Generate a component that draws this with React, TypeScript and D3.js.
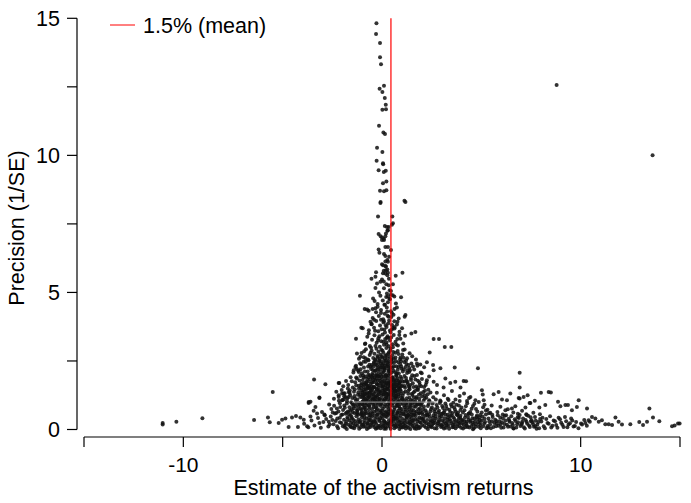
import React from "react";
import * as d3 from "d3";

type P = [number, number];

// x-axis ticks / labels
const xTicks = [-15, -10, -5, 0, 5, 10, 15];
const xTickLabels = ["", "-10", "", "0", "", "10", ""];
// y-axis ticks / labels
const yTicks = [0, 2.5, 5, 7.5, 10, 12.5, 15];
const yTickLabels = ["0", "", "5", "", "10", "", "15"];

const meanEstimate = 0.45;
const legendLabel = "1.5% (mean)";
const refLineY = 1.0;
const refLineX: [number, number] = [-1.5, 2.8];

// high-precision stem of the funnel
const stemPoints: P[] = [
  [-0.28, 14.82], [-0.3, 14.43], [-0.1, 14.1], [-0.1, 13.58], [-0.05, 13.32],
  [0.1, 12.54], [-0.12, 12.43], [0.02, 12.31], [0.14, 12.09], [0.19, 11.85],
  [0.02, 11.66], [0.2, 11.68], [-0.15, 11.08], [0.07, 10.83], [0.15, 10.78],
  [-0.25, 10.28], [0.02, 10.12], [-0.27, 9.8], [0.05, 9.71], [0.06, 9.68],
  [-0.17, 9.46], [0.09, 9.39], [0.19, 9.44], [0.05, 8.98], [0.22, 9.05],
  [-0.1, 8.71], [0.1, 8.69], [0.22, 8.73], [-0.07, 8.3], [-0.08, 8.26],
  [1.13, 8.34], [1.18, 8.3], [-0.2, 7.77], [0.52, 7.77], [0.55, 7.52],
  [0.5, 7.47], [0.14, 7.42], [0.25, 7.39], [0.34, 7.39], [0.3, 7.27],
  [-0.17, 7.13], [-0.07, 7.05], [0.0, 7.0], [0.09, 6.96], [0.17, 7.05],
  [0.2, 7.15], [0.27, 7.25], [0.0, 6.91], [0.1, 6.91], [0.17, 6.66],
  [0.3, 6.66], [-0.17, 6.57], [-0.13, 6.45], [0.1, 6.4], [0.17, 6.33],
  [0.17, 6.13], [0.27, 6.18], [0.0, 6.03], [0.05, 5.99], [0.17, 5.96],
  [0.3, 6.12], [-0.3, 5.74], [-0.33, 5.57], [0.2, 5.81], [0.27, 5.84],
  [0.3, 5.72], [0.17, 5.69], [0.09, 5.79], [0.27, 5.63], [1.03, 5.72],
  [0.69, 5.61], [-0.53, 5.5], [0.0, 5.47], [0.09, 5.4], [-0.08, 5.39],
  [-0.25, 5.33], [-0.33, 5.16], [0.1, 5.15], [0.34, 5.26], [0.39, 5.08],
  [0.25, 4.96], [0.3, 4.86], [0.37, 4.77], [-1.11, 4.88], [0.96, 4.82],
  [0.54, 4.9], [-0.45, 4.78], [-0.37, 4.69], [0.75, 4.45], [-0.87, 4.4],
  [-0.75, 4.38], [-0.67, 4.33], [-0.47, 4.4], [-0.33, 4.42], [-0.22, 4.48],
  [1.18, 4.18], [1.14, 4.11], [0.84, 4.05], [-0.58, 3.93], [-0.53, 3.84],
  [-1.04, 3.71], [1.01, 3.69], [0.64, 3.74], [0.75, 3.83],
  [0.15, 4.55], [0.28, 4.15], [0.4, 4.75], [0.55, 5.3], [0.62, 4.85], [0.2, 5.95],
  [0.36, 6.3], [-0.05, 4.25], [0.1, 3.95], [0.25, 3.35], [0.5, 3.65], [-0.4, 4.0],
  [0.05, 5.7], [0.45, 6.55],
];

// isolated outliers
const outlierPoints: P[] = [
  [8.79, 12.57], [13.62, 10.0],
];

// right tail of the funnel
const rightTail: P[] = [
  [1.48, 3.5], [1.68, 3.56], [2.6, 3.3], [2.87, 3.3], [3.16, 3.01],
  [3.49, 3.01], [2.4, 2.81], [2.26, 2.45], [2.57, 2.35], [1.93, 2.37],
  [1.76, 2.41], [3.66, 2.26], [4.83, 2.23], [2.94, 2.23], [2.6, 2.16],
  [6.93, 2.07], [2.26, 1.8], [2.6, 1.74], [3.19, 1.86], [3.44, 1.7],
  [3.69, 1.74], [4.11, 1.77], [4.23, 1.76], [6.93, 1.53], [3.95, 1.53],
  [3.1, 1.53], [2.77, 1.62], [5.03, 1.43], [5.87, 1.37], [5.62, 1.29],
  [6.46, 1.31], [5.07, 1.28], [7.33, 1.25], [7.13, 1.19], [6.88, 1.15],
  [6.29, 1.07], [6.04, 1.09], [7.43, 0.97], [6.71, 0.85], [6.54, 0.77],
  [5.96, 0.83], [6.21, 0.7], [5.12, 1.07], [4.7, 1.07], [4.28, 1.04],
  [4.45, 1.19], [8.0, 1.34], [8.39, 1.37], [8.5, 1.35], [6.93, 1.13],
  [7.69, 1.05], [7.47, 0.97], [7.22, 0.8], [8.22, 0.89], [7.92, 0.8],
  [8.86, 1.01], [9.23, 0.89], [9.36, 0.89], [9.9, 1.07], [9.81, 0.82],
  [10.32, 0.77], [9.56, 0.7], [8.98, 0.85], [13.46, 0.77], [13.64, 0.44],
  [13.96, 0.3], [12.95, 0.27], [13.14, 0.16], [13.34, 0.28], [12.5, 0.19],
  [12.08, 0.18], [11.75, 0.44], [11.91, 0.28], [14.6, 0.12], [14.73, 0.15],
  [14.9, 0.22], [14.98, 0.22], [11.41, 0.19], [11.58, 0.16], [11.24, 0.19],
  [10.91, 0.28], [11.07, 0.34], [10.74, 0.4], [10.57, 0.46], [10.4, 0.34],
  [10.24, 0.24], [10.07, 0.18],
];

// left tail of the funnel
const leftTail: P[] = [
  [-11.04, 0.18], [-11.04, 0.24], [-10.35, 0.28], [-9.04, 0.41], [-5.5, 1.37],
  [-6.44, 0.35], [-5.74, 0.44], [-5.65, 0.26], [-5.2, 0.24], [-5.03, 0.36],
  [-4.86, 0.4], [-4.7, 0.09], [-4.23, 0.09], [-3.77, 0.12], [-4.53, 0.44],
  [-4.33, 0.49], [-4.11, 0.44], [-3.94, 0.36], [-3.69, 0.97], [-3.6, 1.01],
  [-3.15, 1.17], [-2.85, 1.65], [-2.18, 1.7], [-3.44, 0.68], [-3.27, 0.58],
  [-3.02, 0.64], [-2.18, 1.25], [-2.01, 1.07], [-1.93, 1.31], [-1.68, 1.19],
  [-3.42, 1.82], [-2.15, 1.7], [-3.15, 1.15], [-3.69, 1.0], [-1.31, 3.31],
  [-0.97, 3.69], [-0.84, 3.14], [-0.67, 3.5], [-1.26, 2.77], [-1.09, 2.65],
  [-0.92, 2.47], [-1.34, 2.28], [-1.42, 2.16], [-1.17, 2.1], [-2.01, 1.31],
  [-2.18, 1.19], [-1.84, 1.19], [-1.68, 1.37],
];

// base of the funnel, precision below 0.5
const baseLow: P[] = [
  [-3.92, 0.21], [-3.71, 0.08], [-3.55, 0.33], [-3.4, 0.15], [-3.22, 0.42], [-3.08, 0.06],
  [-2.95, 0.27], [-2.81, 0.38], [-2.7, 0.11], [-2.58, 0.47], [-2.44, 0.19], [-2.33, 0.31],
  [-2.21, 0.05], [-2.12, 0.43], [-2.04, 0.24],
  [-1.97, 0.12], [-1.91, 0.36], [-1.86, 0.07], [-1.8, 0.28], [-1.74, 0.45], [-1.69, 0.17],
  [-1.63, 0.33], [-1.57, 0.09], [-1.51, 0.4], [-1.46, 0.22], [-1.4, 0.05], [-1.35, 0.3],
  [-1.29, 0.48], [-1.23, 0.14], [-1.18, 0.37], [-1.12, 0.26], [-1.07, 0.08], [-1.01, 0.44],
  [-0.96, 0.19], [-0.9, 0.32], [-0.85, 0.11], [-0.79, 0.41], [-0.73, 0.23], [-0.68, 0.06],
  [-0.62, 0.35], [-0.57, 0.16], [-0.51, 0.47], [-0.46, 0.27], [-0.4, 0.09], [-0.35, 0.38],
  [-0.29, 0.2], [-0.24, 0.44], [-0.18, 0.13], [-0.13, 0.31], [-0.07, 0.05], [-0.02, 0.25],
  [-1.55, 0.25], [-1.02, 0.17], [-0.66, 0.43], [-0.31, 0.03],
  [0.03, 0.39], [0.08, 0.15], [0.13, 0.28], [0.18, 0.07], [0.24, 0.46], [0.29, 0.21],
  [0.35, 0.34], [0.4, 0.1], [0.46, 0.42], [0.51, 0.18], [0.57, 0.29], [0.62, 0.05],
  [0.68, 0.37], [0.73, 0.24], [0.79, 0.12], [0.84, 0.45], [0.9, 0.31], [0.95, 0.08],
  [1.01, 0.4], [1.06, 0.2], [1.12, 0.33], [1.17, 0.14], [1.23, 0.47], [1.28, 0.26],
  [1.34, 0.06], [1.39, 0.36], [1.45, 0.17], [1.5, 0.43], [1.56, 0.23], [1.61, 0.09],
  [1.67, 0.38], [1.72, 0.19], [1.78, 0.3], [1.83, 0.11], [1.89, 0.44], [1.94, 0.25],
  [0.21, 0.25], [0.55, 0.47], [0.87, 0.19], [1.2, 0.04], [1.52, 0.32], [1.86, 0.05],
  [0.11, 0.03], [0.66, 0.16], [1.42, 0.27],
  [2.02, 0.16], [2.08, 0.41], [2.15, 0.27], [2.21, 0.07], [2.27, 0.35], [2.34, 0.19],
  [2.4, 0.46], [2.46, 0.12], [2.53, 0.3], [2.59, 0.22], [2.65, 0.05], [2.72, 0.39],
  [2.78, 0.15], [2.84, 0.28], [2.91, 0.44], [2.97, 0.09], [3.03, 0.33], [3.1, 0.2],
  [3.16, 0.41], [3.22, 0.06], [3.29, 0.26], [3.35, 0.14], [3.41, 0.37], [3.48, 0.23],
  [3.54, 0.08], [3.6, 0.45], [3.67, 0.18], [3.73, 0.31], [3.79, 0.11], [3.86, 0.4],
  [3.92, 0.25], [3.98, 0.06], [4.05, 0.34], [4.11, 0.17], [4.17, 0.43], [4.24, 0.22],
  [4.3, 0.09], [4.36, 0.36], [4.43, 0.27], [4.49, 0.13], [4.55, 0.41], [4.62, 0.05],
  [4.68, 0.29], [4.74, 0.19], [4.81, 0.38], [4.87, 0.1], [4.93, 0.24], [2.45, 0.33],
  [3.12, 0.04], [3.83, 0.21],
  [5.02, 0.33], [5.1, 0.12], [5.19, 0.27], [5.27, 0.05], [5.36, 0.4], [5.44, 0.18],
  [5.53, 0.3], [5.61, 0.09], [5.7, 0.36], [5.78, 0.22], [5.87, 0.14], [5.95, 0.44],
  [6.04, 0.26], [6.12, 0.07], [6.21, 0.33], [6.29, 0.17], [6.38, 0.39], [6.46, 0.11],
  [6.55, 0.24], [6.63, 0.04], [6.72, 0.31], [6.8, 0.19], [6.89, 0.42], [6.97, 0.13],
  [7.06, 0.28], [7.14, 0.08], [7.23, 0.35], [7.31, 0.21], [7.4, 0.15], [7.48, 0.45],
  [7.57, 0.26], [7.65, 0.1], [7.74, 0.32], [7.82, 0.18], [7.91, 0.05],
  [8.02, 0.29], [8.14, 0.12], [8.27, 0.38], [8.39, 0.21], [8.52, 0.07], [8.64, 0.33],
  [8.77, 0.16], [8.89, 0.43], [9.02, 0.25], [9.14, 0.09], [9.27, 0.3], [9.39, 0.18],
  [9.52, 0.4], [9.64, 0.11], [9.77, 0.27], [9.89, 0.05], [10.02, 0.22], [10.18, 0.35],
  [10.31, 0.14], [10.46, 0.28],
];

// more base points, precision below 0.6
const baseLowExtra: P[] = [
  [-2.88, 0.52], [-2.63, 0.18], [-2.37, 0.58], [-2.26, 0.12], [-1.99, 0.55], [-1.83, 0.21],
  [-1.77, 0.02], [-1.66, 0.56], [-1.6, 0.13], [-1.49, 0.07], [-1.43, 0.35], [-1.32, 0.19],
  [-1.26, 0.57], [-1.15, 0.03], [-1.09, 0.31], [-0.98, 0.52], [-0.93, 0.1], [-0.87, 0.24],
  [-0.82, 0.58], [-0.76, 0.02], [-0.7, 0.31], [-0.65, 0.54], [-0.59, 0.09], [-0.54, 0.24],
  [-0.48, 0.58], [-0.43, 0.16], [-0.37, 0.5], [-0.32, 0.27], [-0.26, 0.06], [-0.21, 0.56],
  [-0.15, 0.36], [-0.1, 0.15], [-0.04, 0.49], [0.01, 0.11], [0.06, 0.55], [0.1, 0.32],
  [0.16, 0.48], [0.2, 0.03], [0.27, 0.13], [0.32, 0.53], [0.38, 0.23], [0.43, 0.03],
  [0.49, 0.33], [0.54, 0.56], [0.6, 0.14], [0.65, 0.44], [0.71, 0.09], [0.76, 0.57],
  [0.82, 0.31], [0.88, 0.02], [0.93, 0.51], [0.99, 0.26], [1.04, 0.07], [1.1, 0.55],
  [1.15, 0.24], [1.21, 0.38], [1.26, 0.11], [1.32, 0.52], [1.37, 0.22], [1.43, 0.02],
  [1.48, 0.56], [1.54, 0.13], [1.59, 0.34], [1.65, 0.04], [1.7, 0.5], [1.76, 0.12],
  [1.81, 0.37], [1.87, 0.58], [1.92, 0.08], [1.98, 0.41], [2.05, 0.54], [2.12, 0.13],
  [2.18, 0.5], [2.24, 0.23], [2.31, 0.02], [2.37, 0.56], [2.43, 0.26], [2.5, 0.08],
  [2.56, 0.43], [2.62, 0.33], [2.69, 0.58], [2.75, 0.04], [2.81, 0.23], [2.88, 0.53],
  [2.94, 0.19], [3.0, 0.47], [3.07, 0.1], [3.13, 0.29], [3.19, 0.55], [3.26, 0.15],
  [3.32, 0.45], [3.38, 0.03], [3.45, 0.31], [3.51, 0.51], [3.57, 0.16], [3.64, 0.38],
  [3.7, 0.05], [3.76, 0.56], [3.83, 0.29], [3.89, 0.13], [3.95, 0.5], [4.02, 0.22],
  [4.08, 0.04], [4.14, 0.3], [4.21, 0.53], [4.27, 0.15], [4.33, 0.46], [4.4, 0.07],
  [4.46, 0.32], [4.52, 0.55], [4.59, 0.18], [4.65, 0.4], [4.71, 0.1], [4.78, 0.51],
  [4.84, 0.26], [4.9, 0.45], [4.97, 0.05], [5.06, 0.47], [5.14, 0.22], [5.23, 0.55],
  [5.31, 0.13], [5.4, 0.29], [5.48, 0.05], [5.57, 0.46], [5.65, 0.24], [5.74, 0.12],
  [5.83, 0.52], [5.91, 0.3], [6.0, 0.06], [6.08, 0.41], [6.17, 0.2], [6.25, 0.52],
  [6.34, 0.1], [6.42, 0.28], [6.51, 0.48], [6.59, 0.16], [6.68, 0.37], [6.76, 0.07],
  [6.85, 0.26], [6.93, 0.53], [7.02, 0.18], [7.1, 0.4], [7.19, 0.04], [7.27, 0.28],
  [7.36, 0.5], [7.44, 0.09], [7.53, 0.34], [7.61, 0.19], [7.7, 0.46], [7.78, 0.03],
  [7.87, 0.27], [8.08, 0.43], [8.2, 0.05], [8.33, 0.24], [8.46, 0.48], [8.58, 0.14],
  [8.71, 0.3], [8.83, 0.06], [8.96, 0.37], [9.08, 0.17], [9.21, 0.46], [9.33, 0.08],
  [9.46, 0.23], [9.58, 0.33], [9.71, 0.13],
  [2.09, 0.31], [2.28, 0.5], [2.52, 0.16], [2.7, 0.47], [2.89, 0.34], [3.05, 0.57],
  [3.23, 0.21], [3.43, 0.49], [3.62, 0.27], [3.8, 0.53], [3.99, 0.36], [4.18, 0.08],
  [4.38, 0.58], [4.57, 0.25], [4.76, 0.46], [4.95, 0.16], [5.16, 0.39], [5.35, 0.07],
  [5.55, 0.54], [5.76, 0.31], [5.97, 0.19], [6.18, 0.5], [6.4, 0.33], [6.61, 0.05],
  [6.83, 0.45], [7.04, 0.23], [7.26, 0.56], [7.49, 0.3], [7.72, 0.12], [7.96, 0.38],
  [-2.5, 0.35], [-2.12, 0.26], [-1.72, 0.39], [-1.38, 0.12], [-1.05, 0.55], [-0.71, 0.18],
  [-0.39, 0.3], [-0.08, 0.42], [0.25, 0.56], [0.58, 0.4], [0.92, 0.16], [1.25, 0.45],
  [1.58, 0.52], [1.9, 0.27],
  [0.14, 0.2], [0.45, 0.28], [0.74, 0.4], [1.08, 0.1], [1.4, 0.47], [1.73, 0.03],
  [2.04, 0.37], [2.36, 0.11], [2.66, 0.25], [2.98, 0.15], [3.3, 0.36], [3.6, 0.09],
  [3.93, 0.44], [4.25, 0.28], [4.58, 0.01], [4.92, 0.35], [-0.2, 0.06], [-0.55, 0.35],
  [-0.88, 0.44], [-1.2, 0.27], [-1.53, 0.46], [-1.88, 0.15], [-2.25, 0.4], [-2.68, 0.28],
  [-3.15, 0.24], [-3.6, 0.47],
];

// precision 0.5 to 1
const baseHigh: P[] = [
  [-3.35, 0.82], [-2.9, 0.55], [-2.66, 0.91], [-2.48, 0.62], [-2.27, 0.77], [-2.12, 0.96], [-2.05, 0.53],
  [-1.96, 0.71], [-1.9, 0.88], [-1.83, 0.57], [-1.77, 0.95], [-1.71, 0.66], [-1.64, 0.81],
  [-1.58, 0.52], [-1.52, 0.74], [-1.45, 0.92], [-1.39, 0.6], [-1.33, 0.85], [-1.26, 0.69],
  [-1.2, 0.54], [-1.14, 0.97], [-1.07, 0.77], [-1.01, 0.63], [-0.95, 0.89], [-0.88, 0.56],
  [-0.82, 0.72], [-0.76, 0.94], [-0.69, 0.61], [-0.63, 0.83], [-0.57, 0.51], [-0.5, 0.75],
  [-0.44, 0.9], [-0.38, 0.65], [-0.31, 0.8], [-0.25, 0.55], [-0.19, 0.98], [-0.12, 0.7],
  [-0.06, 0.86], [-0.01, 0.59], [-1.48, 0.63], [-0.91, 0.78], [-0.35, 0.93],
  [0.04, 0.76], [0.09, 0.53], [0.15, 0.91], [0.2, 0.67], [0.26, 0.82], [0.31, 0.58],
  [0.37, 0.96], [0.42, 0.71], [0.48, 0.55], [0.53, 0.87], [0.59, 0.64], [0.64, 0.79],
  [0.7, 0.51], [0.75, 0.93], [0.81, 0.68], [0.86, 0.84], [0.92, 0.6], [0.97, 0.75],
  [1.03, 0.97], [1.08, 0.57], [1.14, 0.81], [1.19, 0.66], [1.25, 0.9], [1.3, 0.53],
  [1.36, 0.73], [1.41, 0.86], [1.47, 0.62], [1.52, 0.95], [1.58, 0.7], [1.63, 0.55],
  [1.69, 0.83], [1.74, 0.66], [1.8, 0.92], [1.85, 0.59], [1.91, 0.77], [1.96, 0.88],
  [0.34, 0.74], [0.79, 0.99], [1.22, 0.52], [1.66, 0.97],
  [2.03, 0.61], [2.11, 0.84], [2.19, 0.7], [2.27, 0.55], [2.35, 0.93], [2.43, 0.66],
  [2.51, 0.8], [2.59, 0.52], [2.67, 0.74], [2.75, 0.89], [2.83, 0.63], [2.91, 0.97],
  [2.99, 0.57], [3.07, 0.78], [3.15, 0.68], [3.23, 0.86], [3.31, 0.54], [3.39, 0.72],
  [3.47, 0.91], [3.55, 0.6], [3.63, 0.81], [3.71, 0.65], [3.79, 0.53], [3.87, 0.88], [3.95, 0.71],
  [4.07, 0.62], [4.22, 0.85], [4.36, 0.57], [4.51, 0.76], [4.65, 0.94], [4.8, 0.66],
  [4.94, 0.53], [5.09, 0.81], [5.23, 0.69], [5.38, 0.59], [5.52, 0.88], [5.81, 0.64],
  [6.08, 0.55], [6.33, 0.74], [6.61, 0.62], [6.84, 0.57], [7.05, 0.68], [7.28, 0.53],
  [7.62, 0.61], [7.95, 0.56],
];

// more points, precision 0.6 to 1.2
const baseHighExtra: P[] = [
  [-2.41, 0.87], [-2.19, 0.66], [-1.98, 1.08], [-1.87, 0.79], [-1.74, 1.14], [-1.61, 0.68],
  [-1.55, 0.99], [-1.42, 0.77], [-1.36, 1.13], [-1.29, 0.94], [-1.23, 0.62], [-1.17, 0.84],
  [-1.1, 1.19], [-1.04, 0.71], [-0.98, 0.92], [-0.92, 1.07], [-0.85, 0.66], [-0.79, 0.87],
  [-0.73, 1.15], [-0.66, 0.74], [-0.6, 0.97], [-0.54, 0.63], [-0.47, 1.09], [-0.41, 0.82],
  [-0.34, 1.17], [-0.28, 0.68], [-0.22, 0.89], [-0.15, 1.11], [-0.09, 0.63], [-0.03, 0.97],
  [0.02, 0.68], [0.07, 1.04], [0.12, 0.83], [0.17, 0.62], [0.23, 1.16], [0.28, 0.92],
  [0.34, 0.65], [0.39, 0.85], [0.45, 1.1], [0.5, 0.64], [0.56, 0.97], [0.61, 0.72],
  [0.67, 1.15], [0.72, 0.86], [0.78, 0.62], [0.83, 1.01], [0.89, 0.77], [0.94, 0.93],
  [1.0, 0.66], [1.05, 1.12], [1.11, 0.88], [1.16, 0.72], [1.22, 1.04], [1.27, 0.79],
  [1.33, 0.64], [1.38, 1.16], [1.44, 0.95], [1.5, 0.71], [1.55, 1.06], [1.61, 0.84],
  [1.66, 0.61], [1.72, 1.13], [1.77, 0.9], [1.83, 0.74], [1.88, 1.01], [1.94, 0.65],
  [2.0, 0.96], [2.07, 0.74], [2.15, 1.12], [2.23, 0.63], [2.31, 0.86], [2.39, 1.03],
  [2.47, 0.74], [2.55, 0.95], [2.63, 0.66], [2.71, 1.09], [2.79, 0.8], [2.87, 0.68],
  [2.95, 1.02], [3.03, 0.86], [3.11, 0.62], [3.19, 0.95], [3.27, 0.76], [3.35, 1.08],
  [3.43, 0.64], [3.51, 0.84], [3.59, 0.98], [3.67, 0.73], [3.75, 0.9], [3.83, 0.62],
  [3.91, 1.04], [4.0, 0.8], [4.15, 0.7], [4.29, 0.96], [4.44, 0.64], [4.58, 0.86],
  [4.73, 0.75], [4.87, 1.0], [5.02, 0.62], [5.16, 0.9], [5.31, 0.72], [5.45, 0.61],
];

// precision 1 to 2
const coreLow: P[] = [
  [-2.42, 1.12], [-2.3, 1.38], [-2.17, 1.05], [-2.03, 1.44], [-1.9, 1.21], [-1.76, 1.03],
  [-1.63, 1.33], [-1.5, 1.15], [-1.37, 1.47], [-1.24, 1.09], [-1.11, 1.28], [-1.04, 1.41],
  [-0.98, 1.02], [-0.94, 1.23], [-0.89, 1.39], [-0.85, 1.11], [-0.8, 1.31], [-0.76, 1.48],
  [-0.71, 1.06], [-0.67, 1.19], [-0.62, 1.36], [-0.58, 1.01], [-0.53, 1.26], [-0.49, 1.44],
  [-0.44, 1.13], [-0.4, 1.33], [-0.35, 1.07], [-0.31, 1.21], [-0.26, 1.46], [-0.22, 1.16],
  [-0.17, 1.29], [-0.13, 1.04], [-0.08, 1.38], [-0.04, 1.24], [-0.6, 1.49], [-0.28, 1.03],
  [-0.9, 1.17],
  [0.02, 1.11], [0.06, 1.42], [0.09, 1.28], [0.13, 1.05], [0.16, 1.35], [0.2, 1.19],
  [0.23, 1.48], [0.27, 1.09], [0.3, 1.31], [0.34, 1.22], [0.37, 1.02], [0.41, 1.4],
  [0.44, 1.15], [0.48, 1.27], [0.51, 1.46], [0.55, 1.07], [0.58, 1.34], [0.62, 1.18],
  [0.65, 1.03], [0.69, 1.43], [0.72, 1.24], [0.76, 1.12], [0.79, 1.37], [0.83, 1.2],
  [0.86, 1.49], [0.9, 1.06], [0.93, 1.3], [0.97, 1.16], [0.25, 1.26], [0.64, 1.39],
  [1.04, 1.23], [1.11, 1.04], [1.18, 1.39], [1.25, 1.14], [1.32, 1.3], [1.39, 1.47],
  [1.46, 1.08], [1.53, 1.26], [1.6, 1.36], [1.67, 1.02], [1.74, 1.19], [1.81, 1.44],
  [1.88, 1.12], [1.95, 1.32], [2.02, 1.21], [2.09, 1.05], [2.16, 1.41], [2.23, 1.17],
  [2.3, 1.29], [2.37, 1.07], [2.44, 1.35], [1.36, 1.01],
  [2.58, 1.18], [2.76, 1.34], [2.93, 1.06], [3.12, 1.25], [3.31, 1.12], [3.52, 1.4],
  [3.7, 1.09], [3.91, 1.22], [4.13, 1.31], [4.38, 1.15],
  [-1.95, 1.58], [-1.81, 1.77], [-1.7, 1.62], [-1.58, 1.91], [-1.47, 1.53], [-1.35, 1.72],
  [-1.26, 1.86], [-1.17, 1.6], [-1.09, 1.95], [-1.02, 1.68],
  [-0.97, 1.81], [-0.93, 1.55], [-0.88, 1.7], [-0.84, 1.93], [-0.79, 1.62], [-0.75, 1.84],
  [-0.7, 1.51], [-0.66, 1.75], [-0.61, 1.98], [-0.57, 1.66], [-0.52, 1.57], [-0.48, 1.89],
  [-0.43, 1.72], [-0.39, 1.54], [-0.34, 1.8], [-0.3, 1.96], [-0.25, 1.64], [-0.21, 1.78],
  [-0.16, 1.52], [-0.12, 1.87], [-0.07, 1.69], [-0.03, 1.59], [-0.46, 1.99], [-0.2, 1.95],
  [-0.68, 1.91],
  [0.01, 1.83], [0.05, 1.61], [0.08, 1.94], [0.12, 1.72], [0.15, 1.53], [0.19, 1.86],
  [0.22, 1.67], [0.26, 1.79], [0.29, 1.56], [0.33, 1.97], [0.36, 1.7], [0.4, 1.85],
  [0.43, 1.6], [0.47, 1.76], [0.5, 1.52], [0.54, 1.91], [0.57, 1.65], [0.61, 1.82],
  [0.64, 1.58], [0.68, 1.73], [0.71, 1.95], [0.75, 1.63], [0.78, 1.87], [0.82, 1.54],
  [0.85, 1.77], [0.89, 1.66], [0.93, 1.92], [0.97, 1.57],
  [1.05, 1.74], [1.13, 1.59], [1.21, 1.88], [1.29, 1.66], [1.38, 1.52], [1.46, 1.81],
  [1.55, 1.69], [1.63, 1.95], [1.72, 1.57], [1.81, 1.78], [1.9, 1.63], [2.01, 1.84],
  [2.12, 1.55], [2.24, 1.71], [2.37, 1.93],
];

// more points, precision 1.2 to 2.6
const coreLowExtra: P[] = [
  [-1.88, 1.32], [-1.72, 1.5], [-1.6, 1.25], [-1.52, 1.76], [-1.41, 1.38], [-1.3, 1.61],
  [-1.21, 1.27], [-1.13, 1.79], [-1.06, 1.52], [-0.99, 1.35], [-0.95, 1.97], [-0.91, 1.63],
  [-0.87, 1.28], [-0.82, 1.48], [-0.77, 1.74], [-0.73, 1.34], [-0.68, 1.59], [-0.64, 1.23],
  [-0.59, 1.83], [-0.55, 1.41], [-0.5, 1.71], [-0.46, 1.29], [-0.41, 1.56], [-0.37, 1.9],
  [-0.32, 1.38], [-0.27, 1.68], [-0.23, 1.26], [-0.18, 1.62], [-0.14, 1.42], [-0.1, 1.77],
  [-0.05, 1.33], [-0.01, 1.93], [0.03, 1.5], [0.07, 1.27], [0.1, 1.76], [0.14, 1.44],
  [0.18, 1.62], [0.21, 1.31], [0.25, 1.92], [0.28, 1.49], [0.32, 1.67], [0.35, 1.28],
  [0.39, 1.56], [0.42, 1.74], [0.46, 1.37], [0.49, 1.64], [0.53, 1.24], [0.56, 1.81],
  [0.6, 1.47], [0.63, 1.7], [0.67, 1.31], [0.7, 1.58], [0.74, 1.8], [0.77, 1.42],
  [0.81, 1.66], [0.84, 1.28], [0.88, 1.53], [0.92, 1.75], [0.95, 1.4], [1.01, 1.6],
  [1.09, 1.33], [1.16, 1.52], [1.24, 1.78], [1.33, 1.41], [1.42, 1.62], [1.5, 1.3],
  [1.59, 1.55], [1.68, 1.82], [1.77, 1.47], [1.86, 1.27], [1.97, 1.58], [2.08, 1.37],
  [2.2, 1.62], [2.33, 1.45],
  [-1.27, 2.22], [-1.05, 2.38], [-0.86, 2.12], [-0.68, 2.53], [-0.58, 2.29], [-0.46, 2.16],
  [-0.34, 2.55], [-0.26, 2.34], [-0.14, 2.52], [-0.06, 2.27], [0.02, 2.35], [0.1, 2.21],
  [0.18, 2.5], [0.26, 2.32], [0.34, 2.49], [0.42, 2.26], [0.5, 2.47], [0.58, 2.14],
  [0.7, 2.5], [0.83, 2.28], [0.96, 2.49], [1.09, 2.2], [1.23, 2.39], [1.37, 2.24],
];

// densest part of the core, precision 0.5 to 5.5
const coreDense: P[] = [
  [-1.45, 0.86], [-1.38, 1.22], [-1.31, 1.05], [-1.19, 1.36], [-1.12, 0.9], [-1.05, 1.62],
  [-0.99, 1.18], [-0.93, 1.44], [-0.86, 0.98], [-0.8, 1.7], [-0.74, 1.25], [-0.69, 2.0],
  [-0.63, 1.52], [-0.56, 1.14], [-0.51, 2.35], [-0.45, 1.8], [-0.39, 1.2], [-0.33, 2.15],
  [-0.27, 1.5], [-0.21, 2.64], [-0.16, 1.94], [-0.11, 1.12], [-0.06, 2.42], [-0.02, 1.72],
  [0.03, 2.87], [0.07, 2.1], [0.11, 1.36], [0.15, 2.6], [0.19, 1.97], [0.23, 3.1],
  [0.27, 2.38], [0.31, 1.45], [0.35, 2.82], [0.39, 2.03], [0.43, 3.55], [0.47, 2.6],
  [0.51, 1.9], [0.55, 3.0], [0.59, 2.3], [0.63, 1.48], [0.67, 2.8], [0.72, 1.99],
  [0.77, 3.3], [0.82, 2.45], [0.87, 1.7], [0.93, 2.63], [0.99, 1.86], [1.06, 2.9],
  [1.13, 1.95], [1.21, 2.52], [1.29, 1.73], [1.37, 2.1], [1.46, 1.88], [1.56, 2.3],
  [1.66, 1.4], [1.76, 1.99], [1.88, 1.72], [2.0, 2.05], [2.15, 1.25], [-0.9, 2.85],
  [-0.55, 2.98], [-0.2, 3.25], [0.12, 3.65], [0.36, 3.98], [0.5, 4.25], [0.62, 3.95],
  [-0.35, 3.6], [-0.05, 4.0], [0.26, 4.3], [0.7, 4.6], [0.35, 5.5], [0.22, 5.3],
  [-0.15, 5.0], [0.45, 5.05],
  [-1.22, 0.73], [-1.16, 1.5], [-1.08, 2.2], [-1.03, 0.58], [-0.97, 1.28], [-0.92, 1.9],
  [-0.87, 0.8], [-0.83, 2.6], [-0.78, 1.05], [-0.74, 1.6], [-0.7, 2.3], [-0.65, 0.88],
  [-0.61, 1.34], [-0.57, 2.8], [-0.53, 1.92], [-0.49, 0.98], [-0.45, 1.52], [-0.41, 2.42],
  [-0.37, 1.06], [-0.33, 3.05], [-0.29, 1.85], [-0.25, 0.76], [-0.21, 2.2], [-0.17, 1.38],
  [-0.13, 3.4], [-0.09, 2.0], [-0.05, 0.92], [-0.01, 2.66], [0.03, 1.58], [0.07, 3.2],
  [0.11, 2.25], [0.15, 1.12], [0.19, 3.8], [0.23, 2.72], [0.27, 1.7], [0.31, 3.35],
  [0.35, 2.15], [0.39, 0.95], [0.43, 2.95], [0.47, 4.1], [0.51, 1.56], [0.55, 3.7],
  [0.59, 2.58], [0.63, 4.4], [0.67, 1.22], [0.71, 3.1], [0.75, 2.05], [0.79, 0.88],
  [0.83, 2.75], [0.87, 3.45], [0.92, 1.45], [0.97, 2.3], [1.02, 1.1], [1.08, 2.62],
  [1.14, 1.75], [1.2, 0.95], [1.27, 2.15], [1.35, 1.58], [1.43, 0.82], [1.52, 1.98],
  [1.61, 1.18], [1.71, 2.55], [1.82, 1.52], [1.94, 0.93], [-1.3, 1.9], [-1.5, 0.95],
  [-1.62, 1.42], [-1.78, 0.62], [-1.92, 1.1], [-2.1, 0.82], [-2.3, 0.6], [-2.55, 0.75],
];

// precision 2 to 5
const coreHigh: P[] = [
  [-1.44, 2.08], [-1.31, 2.33], [-1.2, 2.15], [-1.1, 2.42], [-1.01, 2.05], [-0.91, 2.26],
  [-0.82, 2.47], [-0.72, 2.12], [-0.63, 2.36], [-0.55, 2.21],
  [-0.48, 2.03], [-0.44, 2.29], [-0.4, 2.46], [-0.36, 2.13], [-0.32, 2.37], [-0.28, 2.02],
  [-0.24, 2.24], [-0.2, 2.44], [-0.16, 2.1], [-0.12, 2.32], [-0.08, 2.19], [-0.04, 2.48],
  [0.0, 2.06], [0.04, 2.27], [0.08, 2.4], [0.12, 2.15], [0.16, 2.34], [0.2, 2.01],
  [0.24, 2.23], [0.28, 2.45], [0.32, 2.11], [0.36, 2.3], [0.4, 2.17], [0.44, 2.39], [0.48, 2.07],
  [0.53, 2.25], [0.6, 2.43], [0.66, 2.09], [0.72, 2.31], [0.79, 2.18], [0.85, 2.04],
  [0.92, 2.38], [0.98, 2.22], [1.05, 2.12], [1.12, 2.46], [1.19, 2.28], [1.26, 2.06],
  [1.33, 2.35], [1.41, 2.16], [1.48, 2.41],
  [1.62, 2.19], [1.78, 2.33], [1.95, 2.08], [2.12, 2.27],
  [-1.16, 2.58], [-1.03, 2.79], [-0.92, 2.64], [-0.81, 2.93], [-0.71, 2.55], [-0.62, 2.72],
  [-0.52, 2.87], [-0.44, 2.61],
  [-0.38, 2.76], [-0.33, 2.53], [-0.28, 2.95], [-0.23, 2.68], [-0.18, 2.84], [-0.13, 2.57],
  [-0.08, 2.73], [-0.03, 2.91], [0.02, 2.62], [0.07, 2.8], [0.12, 2.51], [0.17, 2.69],
  [0.22, 2.97], [0.27, 2.59], [0.32, 2.77], [0.37, 2.66], [0.42, 2.89], [0.47, 2.54],
  [0.52, 2.71], [0.57, 2.83],
  [0.68, 2.63], [0.79, 2.86], [0.91, 2.56], [1.02, 2.74], [1.14, 2.92], [1.26, 2.6],
  [1.39, 2.78], [1.52, 2.67],
  [-0.86, 3.12], [-0.74, 3.38], [-0.61, 3.05], [-0.5, 3.27], [-0.38, 3.44], [-0.27, 3.16],
  [-0.18, 3.33], [-0.11, 3.02], [-0.04, 3.22], [0.03, 3.47], [0.1, 3.09], [0.16, 3.3],
  [0.22, 3.18], [0.28, 3.4], [0.34, 3.04], [0.4, 3.25], [0.46, 3.36], [0.53, 3.11],
  [0.59, 3.45], [0.68, 3.2], [0.8, 3.06], [0.93, 3.31], [1.07, 3.14], [1.16, 3.42],
  [-0.66, 3.62], [-0.52, 3.85], [-0.4, 3.71], [-0.29, 3.96], [-0.19, 3.58], [-0.1, 3.79],
  [-0.02, 3.66], [0.07, 3.9], [0.15, 3.54], [0.23, 3.74], [0.31, 3.87], [0.4, 3.61],
  [0.51, 3.81], [0.63, 3.68], [0.78, 3.93], [0.88, 3.57],
  [-0.47, 4.07], [-0.3, 4.28], [-0.16, 4.14], [-0.05, 4.36], [0.06, 4.02], [0.14, 4.22],
  [0.24, 4.45], [0.33, 4.11], [0.45, 4.31], [0.58, 4.19],
  [-0.22, 4.58], [0.04, 4.71], [0.12, 4.55], [0.21, 4.83], [0.3, 4.64], [0.44, 4.92],
  [-0.08, 4.88],
];

const FONT = "'Liberation Sans', Arial, Helvetica, sans-serif";

export default function App() {
  const W = 691;
  const H = 503;
  const x = d3.scaleLinear().domain([-15, 15]).range([84, 680]);
  const y = d3.scaleLinear().domain([0, 15]).range([429.5, 18.3]);
  const axisY = 437;
  const axisX = 77;

  const allPoints: P[] = [
    ...baseLow,
    ...baseLowExtra,
    ...baseHigh,
    ...baseHighExtra,
    ...coreLow,
    ...coreLowExtra,
    ...coreDense,
    ...coreHigh,
    ...leftTail,
    ...rightTail,
    ...stemPoints,
    ...outlierPoints,
  ];

  return (
    <svg
      width={W}
      height={H}
      viewBox={`0 0 ${W} ${H}`}
      style={{ position: "absolute", left: 0, top: 0, background: "#fff" }}
      fontFamily={FONT}
    >
      <rect width={W} height={H} fill="#fff" />
      {/* points */}
      <g fill="#111" fillOpacity={0.86}>
        {allPoints.map((p, i) => (
          <circle key={i} cx={x(p[0])} cy={y(p[1])} r={2} />
        ))}
      </g>
      {/* faint reference line */}
      <line
        x1={x(refLineX[0])}
        x2={x(refLineX[1])}
        y1={y(refLineY)}
        y2={y(refLineY)}
        stroke="#a0a0a0"
        strokeWidth={1}
      />
      {/* mean line */}
      <line
        x1={x(meanEstimate)}
        x2={x(meanEstimate)}
        y1={y(15)}
        y2={axisY}
        stroke="#ff0000"
        strokeWidth={1.2}
      />
      {/* y axis */}
      <g stroke="#000" strokeWidth={1.2} fill="none">
        <line x1={axisX} x2={axisX} y1={y(15)} y2={y(0)} />
        {yTicks.map((t) => (
          <line key={t} x1={axisX - 10} x2={axisX} y1={y(t)} y2={y(t)} />
        ))}
      </g>
      <g fontSize={21.5} textAnchor="end" fill="#000">
        {yTicks.map((t, i) =>
          yTickLabels[i] ? (
            <text key={t} x={60} y={y(t) + 7.5}>
              {yTickLabels[i]}
            </text>
          ) : null
        )}
      </g>
      {/* x axis */}
      <g stroke="#000" strokeWidth={1.2} fill="none">
        <line x1={x(-15)} x2={x(15)} y1={axisY} y2={axisY} />
        {xTicks.map((t) => (
          <line key={t} x1={x(t)} x2={x(t)} y1={axisY} y2={axisY + 10} />
        ))}
      </g>
      <g fontSize={21} textAnchor="middle" fill="#000">
        {xTicks.map((t, i) =>
          xTickLabels[i] ? (
            <text key={t} x={x(t)} y={472}>
              {xTickLabels[i]}
            </text>
          ) : null
        )}
      </g>
      {/* axis titles */}
      <text x={383.5} y={494.5} fontSize={21.5} textAnchor="middle" fill="#000">
        Estimate of the activism returns
      </text>
      <text
        transform={`translate(24, 228) rotate(-90)`}
        fontSize={21.5}
        textAnchor="middle"
        fill="#000"
      >
        Precision (1/SE)
      </text>
      {/* legend */}
      <line x1={110} x2={135} y1={25} y2={25} stroke="#ff0000" strokeWidth={1} />
      <text x={143} y={33} fontSize={21.5} fill="#000">
        {legendLabel}
      </text>
    </svg>
  );
}
